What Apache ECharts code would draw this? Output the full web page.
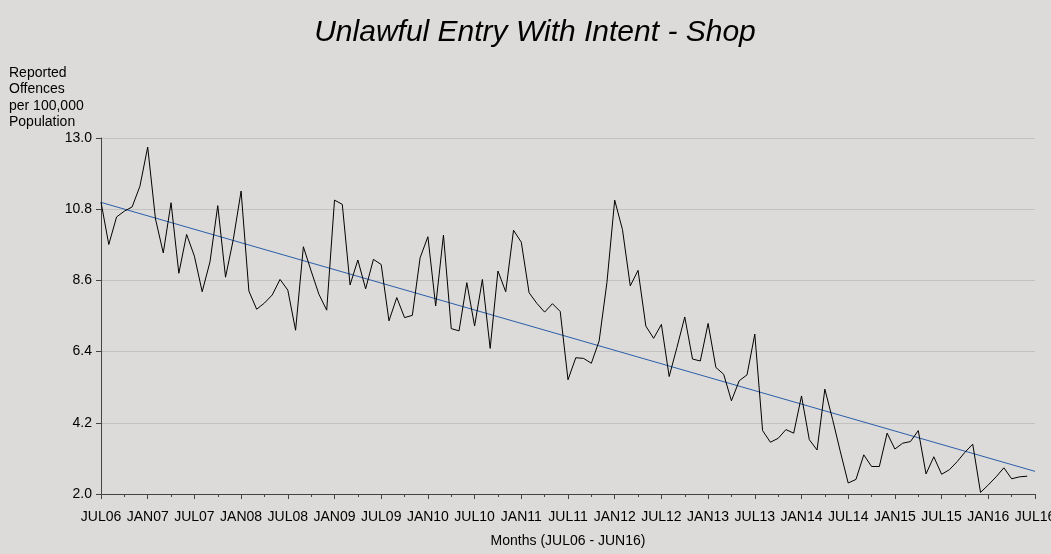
<!DOCTYPE html>
<html style="height: 100%">
<head>
    <meta charset="UTF-8">
    <title>Unlawful Entry With Intent - Shop</title>
    <script src="https://cdn.jsdelivr.net/npm/echarts@6/dist/echarts.min.js"></script>
</head>
<body style="height: 100%; margin: 0; background: #dcdbda">
    <div id="main" style="width: 1051px; height: 554px;"></div>
    <script>
        // tick labels, one every 6 months
        var monthLabels = ['JUL06', 'JAN07', 'JUL07', 'JAN08', 'JUL08', 'JAN09', 'JUL09', 'JAN10', 'JUL10',
            'JAN11', 'JUL11', 'JAN12', 'JUL12', 'JAN13', 'JUL13', 'JAN14', 'JUL14', 'JAN15', 'JUL15',
            'JAN16', 'JUL16'];

        // monthly rate, JUL06 .. JUN16
        var offences = [
            11.02, 9.71, 10.56, 10.74, 10.87, 11.51, 12.72, 10.5, 9.45, 11.0, 8.82, 10.02,
            9.35, 8.25, 9.17, 10.91, 8.7, 9.87, 11.36, 8.27, 7.71, 7.9, 8.15, 8.63,
            8.3, 7.06, 9.64, 8.89, 8.17, 7.68, 11.08, 10.95, 8.46, 9.23, 8.34, 9.25,
            9.09, 7.35, 8.07, 7.45, 7.52, 9.3, 9.95, 7.81, 10.0, 7.11, 7.04, 8.53,
            7.19, 8.63, 6.5, 8.89, 8.25, 10.15, 9.78, 8.22, 7.89, 7.62, 7.88, 7.64,
            5.53, 6.21, 6.19, 6.04, 6.73, 8.53, 11.08, 10.17, 8.43, 8.91, 7.19, 6.81,
            7.24, 5.63, 6.53, 7.47, 6.17, 6.11, 7.27, 5.91, 5.70, 4.88, 5.5, 5.68,
            6.94, 3.96, 3.6, 3.72, 3.99, 3.88, 5.03, 3.68, 3.36, 5.24, 4.3, 3.3,
            2.34, 2.45, 3.21, 2.85, 2.85, 3.88, 3.39, 3.57, 3.62, 3.96, 2.62, 3.15,
            2.61, 2.75, 3.0, 3.29, 3.54, 2.05, 2.28, 2.53, 2.81, 2.47, 2.53, 2.55
        ];

        // trend line end points (month index, value)
        var trendLine = [[0, 11.01], [120, 2.70]];

        var lineData = offences.map(function (v, i) { return [i, v]; });

        var myChart = echarts.init(document.getElementById('main'));

        var font = 'Liberation Sans, Arial, sans-serif';

        var option = {
            backgroundColor: '#dcdbda',
            animation: false,
            title: [{
                text: 'Unlawful Entry With Intent - Shop',
                left: 530,
                top: 13,
                textAlign: 'center',
                textStyle: {
                    fontFamily: font,
                    fontStyle: 'italic',
                    fontWeight: 'normal',
                    fontSize: 30,
                    color: '#000'
                }
            }, {
                text: 'Reported\nOffences\nper 100,000\nPopulation',
                left: 9,
                top: 65,
                padding: 0,
                textStyle: {
                    fontFamily: font,
                    fontWeight: 'normal',
                    fontSize: 14,
                    lineHeight: 16.4,
                    color: '#000'
                }
            }],
            grid: {
                left: 101,
                right: 16,
                top: 138,
                bottom: 60,
                outerBoundsMode: 'none',
                containLabel: false
            },
            xAxis: {
                type: 'value',
                min: 0,
                max: 120,
                interval: 6,
                name: 'Months (JUL06 - JUN16)',
                nameLocation: 'middle',
                nameGap: 40,
                nameTextStyle: { fontFamily: font, fontSize: 14, color: '#000' },
                axisLine: { lineStyle: { color: '#444', width: 1 } },
                axisTick: { show: true, length: 5, lineStyle: { color: '#444' } },
                minorTick: { show: true, splitNumber: 2, length: 3, lineStyle: { color: '#444' } },
                splitLine: { show: false },
                axisLabel: {
                    margin: 16,
                    fontFamily: font,
                    fontSize: 14,
                    color: '#000',
                    showMaxLabel: true,
                    formatter: function (v) { return monthLabels[Math.round(v / 6)]; }
                }
            },
            yAxis: {
                type: 'value',
                min: 2,
                max: 13,
                interval: 2.2,
                axisLine: { show: true, lineStyle: { color: '#444', width: 1 } },
                axisTick: { show: true, length: 5, lineStyle: { color: '#444' } },
                splitLine: { show: true, lineStyle: { color: '#c2c2c2', width: 1 } },
                axisLabel: {
                    margin: 9,
                    fontFamily: font,
                    fontSize: 14,
                    color: '#000',
                    formatter: function (v) { return v.toFixed(1); }
                }
            },
            series: [
                {
                    name: 'Offences',
                    type: 'line',
                    data: lineData,
                    symbol: 'none',
                    lineStyle: { color: '#000', width: 1 },
                    z: 3
                },
                {
                    name: 'Trend',
                    type: 'line',
                    data: trendLine,
                    symbol: 'none',
                    lineStyle: { color: '#2b5ea8', width: 1 },
                    z: 2
                }
            ]
        };

        myChart.setOption(option);
    </script>
</body>
</html>
